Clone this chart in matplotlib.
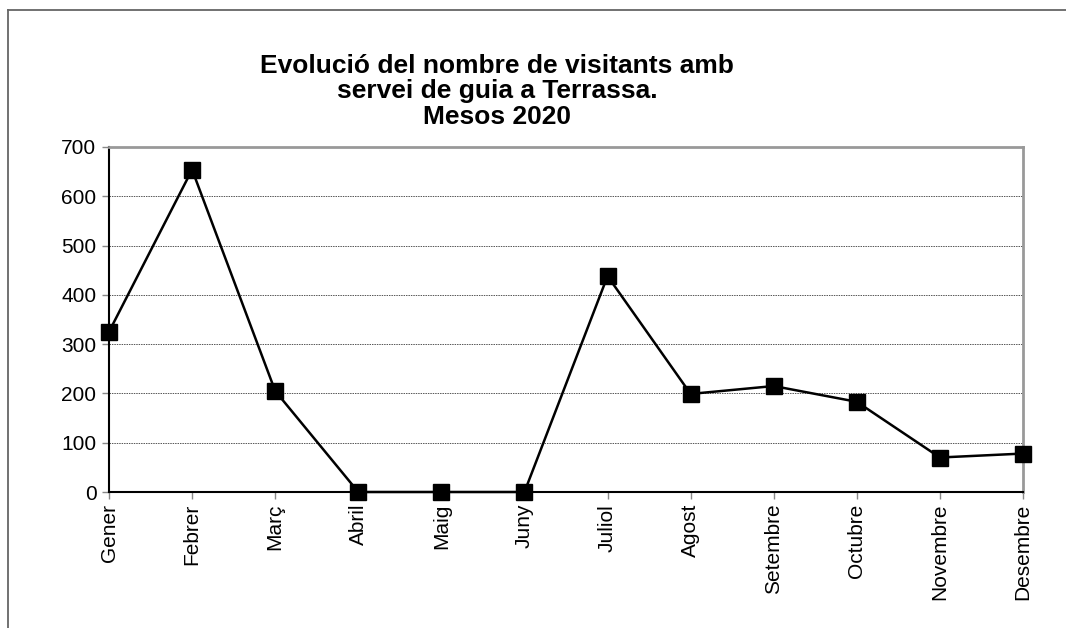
import matplotlib

matplotlib.use("Agg")
import matplotlib.pyplot as plt
from matplotlib.lines import Line2D

plt.rcParams["font.family"] = ["Liberation Sans", "DejaVu Sans"]

MONTHS = ["Gener", "Febrer", "Març", "Abril", "Maig", "Juny", "Juliol",
          "Agost", "Setembre", "Octubre", "Novembre", "Desembre"]
VISITORS = [325, 654, 205, 0, 0, 0, 438, 199, 215, 183, 70, 78]
Y_TICKS = [0, 100, 200, 300, 400, 500, 600, 700]
TITLE = "Evolució del nombre de visitants amb\nservei de guia a Terrassa.\nMesos 2020"

fig = plt.figure(figsize=(10.66, 6.28), dpi=100)
W, H = 1066, 628

# outer chart frame (top and left edges visible)
fig.add_artist(Line2D([8 / W, 8 / W], [0, 1 - 10 / H], color="#666666", lw=1.3))
fig.add_artist(Line2D([8 / W, 1], [1 - 10 / H, 1 - 10 / H], color="#666666", lw=1.3))

ax = fig.add_axes([109 / W, 1 - 492 / H, (1023 - 109) / W, (492 - 147) / H])
ax.plot(range(len(MONTHS)), VISITORS, color="black", lw=1.8,
        marker="s", markersize=11.5, markerfacecolor="black", clip_on=False, zorder=3)

ax.set_xlim(0, len(MONTHS) - 1)
ax.set_ylim(0, 700)
ax.set_yticks(Y_TICKS)
ax.set_xticks(range(len(MONTHS)))
ax.set_xticklabels(MONTHS, rotation=90)
ax.tick_params(axis="both", labelsize=15, colors="#888888", labelcolor="black", length=5, width=1)
ax.tick_params(axis="y", pad=4)
ax.grid(True, axis="y", linestyle=(0, (1.5, 1)), color="#555555", lw=0.7)
ax.set_axisbelow(True)

ax.spines["left"].set_color("black")
ax.spines["bottom"].set_color("black")
ax.spines["left"].set_linewidth(1.5)
ax.spines["bottom"].set_linewidth(1.5)
ax.spines["top"].set_color("#999999")
ax.spines["right"].set_color("#999999")
ax.spines["top"].set_linewidth(2)
ax.spines["right"].set_linewidth(2)

fig.text(497 / W, 1 - 54 / H, TITLE, ha="center", va="top", fontsize=19,
         fontweight="bold", linespacing=1.07)

fig.savefig("out.png", dpi=100)
